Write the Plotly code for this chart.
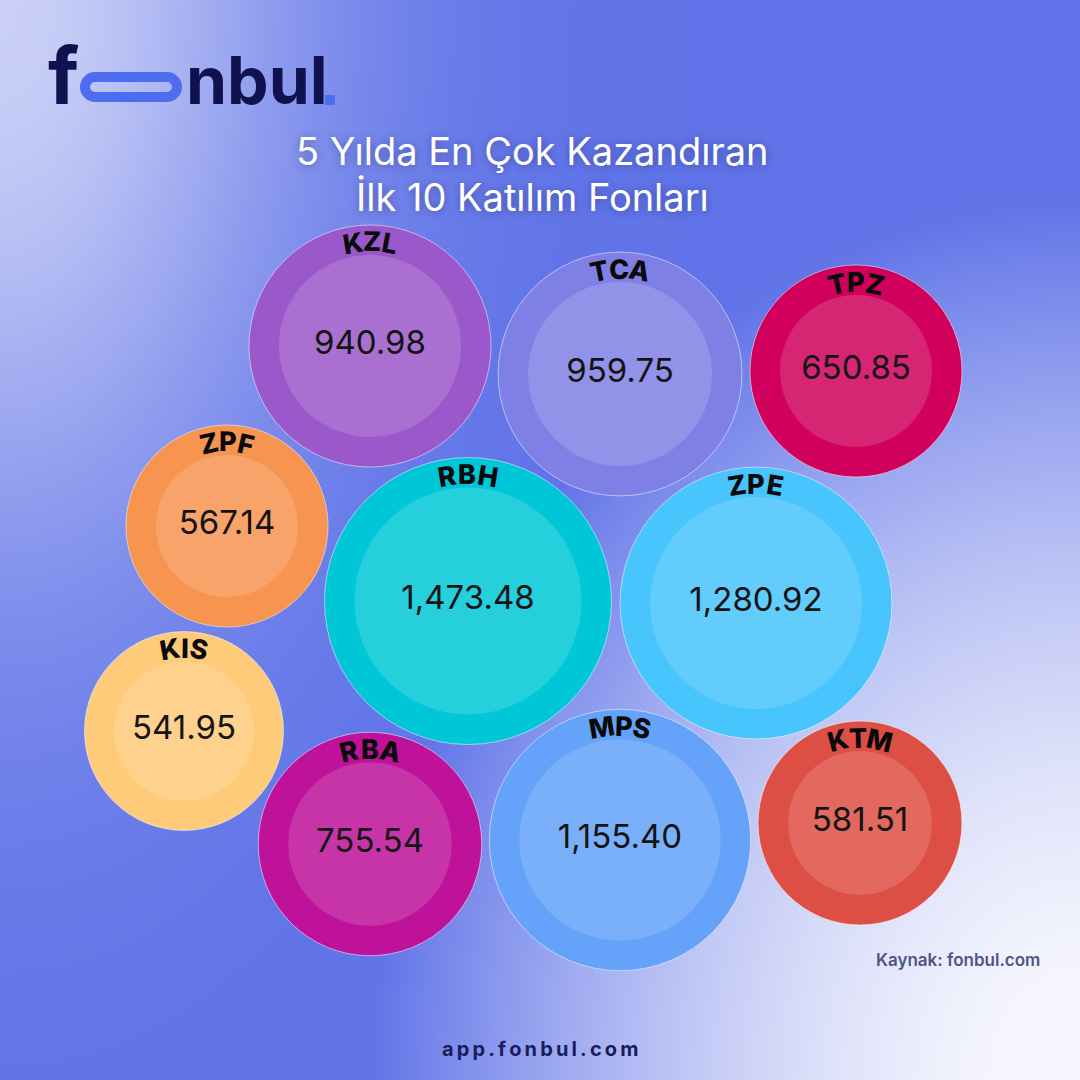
import numpy as np
import plotly.graph_objects as go

# ---------------- data ----------------
funds = ["KZL", "TCA", "TPZ", "ZPF", "RBH", "ZPE", "KIS", "RBA", "MPS", "KTM"]
returns_5y = [940.98, 959.75, 650.85, 567.14, 1473.48, 1280.92, 541.95, 755.54, 1155.40, 581.51]

title_lines = ["5 Yılda En Çok Kazandıran", "İlk 10 Katılım Fonları"]
source_text = "Kaynak: fonbul.com"
site_text = "app.fonbul.com"

# ---------------- layout (packed-bubble positions, pixel space) ----------------
pos_x = [370, 620, 856, 227, 468, 756, 184, 370, 620, 860]
pos_y = [346, 374, 371, 526, 601, 603, 731, 844, 840, 823]

outer_colors = ["#9b58ca", "#7f80e5", "#d0005c", "#f69450", "#00c7d7",
                "#48c5fd", "#fecb7a", "#be129a", "#64a3f9", "#dd4f45"]

W = H = 1080

# sqrt size scale
v = np.array(returns_5y)
r_min, r_max = 99.5, 143.5
s = np.sqrt(v)
radius = r_min + (s - s.min()) / (s.max() - s.min()) * (r_max - r_min)
ring = 30

fig = go.Figure()

# ---------------- background gradient ----------------
gx = np.linspace(0, W, 61)
gy = np.linspace(0, H, 61)
X, Y = np.meshgrid(gx, gy)
f_tl = 0.69 * np.exp(-((X / 300.0) ** 2 + (Y / 560.0) ** 2))
d_br = np.sqrt(((W - X) * 1.18) ** 2 + ((H - Y) * 0.95) ** 2)
f_br = np.clip(1 - (d_br / 840.0) ** 1.66, 0, 1)
Z = np.maximum(f_tl, f_br) + 0.03
fig.add_trace(go.Heatmap(x=gx, y=gy, z=Z, zmin=0, zmax=1, zsmooth="best",
                         colorscale=[[0, "#5b6fe7"], [1, "#f4f5fd"]],
                         showscale=False, hoverinfo="skip"))

# ---------------- bubbles ----------------
fig.add_trace(go.Scatter(
    x=pos_x, y=pos_y, mode="markers",
    marker=dict(size=2 * radius, sizemode="diameter", color=outer_colors,
                opacity=1, line=dict(width=1, color="rgba(255,255,255,0.5)")),
    hoverinfo="skip", showlegend=False))
fig.add_trace(go.Scatter(
    x=pos_x, y=pos_y, mode="markers",
    marker=dict(size=2 * (radius - ring), sizemode="diameter",
                color="rgba(255,255,255,0.21)", line=dict(width=0)),
    hoverinfo="skip", showlegend=False))
fig.add_trace(go.Scatter(
    x=pos_x, y=pos_y, mode="text",
    text=[f"{val:,.2f}" for val in returns_5y],
    textposition="middle center",
    textfont=dict(family="Inter", size=33, color="#141414"),
    hoverinfo="skip", showlegend=False))

# ---------------- curved labels ----------------
char_w = {"K": 18, "Z": 16, "L": 14, "T": 16, "C": 18, "A": 19, "P": 17, "F": 15,
          "R": 18, "B": 18, "H": 20, "E": 16, "I": 8, "S": 16, "M": 23}
annotations = []
for name, cx, cy, r in zip(funds, pos_x, pos_y, radius):
    R = r - 17
    widths = [char_w.get(c, 17) + 2.5 for c in name]
    total = sum(widths)
    acc = -total / 2
    for c, w in zip(name, widths):
        mid = acc + w / 2
        acc += w
        th = mid / R
        annotations.append(dict(
            x=cx + R * np.sin(th), y=cy - R * np.cos(th), xref="x", yref="y",
            text=c, showarrow=False, xanchor="center", yanchor="middle",
            textangle=float(np.degrees(th)),
            font=dict(family="Inter", size=27, color="#0a0a0a", weight=800)))

# ---------------- title ----------------
for i, line in enumerate(title_lines):
    annotations.append(dict(
        x=532, y=151 + i * 46, xref="x", yref="y", text=line, showarrow=False,
        xanchor="center", yanchor="middle",
        font=dict(family="Inter", size=38, color="white",
                  shadow="0px 1px 8px rgba(10,10,60,0.35)")))

# ---------------- logo ----------------
annotations.append(dict(x=46, y=125, xref="x", yref="y", text="f", showarrow=False,
                        xanchor="left", yanchor="bottom",
                        font=dict(family="Inter", size=78, color="#10124f", weight=700)))
annotations.append(dict(x=184, y=122, xref="x", yref="y", text="nbul", showarrow=False,
                        xanchor="left", yanchor="bottom",
                        font=dict(family="Inter", size=66, color="#10124f", weight=700)))
stadium = ("M 95 77 L 167 77 C 172.5 77 177 81.5 177 87 C 177 92.5 172.5 97 167 97 "
           "L 95 97 C 89.5 97 85 92.5 85 87 C 85 81.5 89.5 77 95 77 Z")
shapes = [
    dict(type="path", xref="x", yref="y", path=stadium,
         line=dict(color="#4e6cf0", width=10), fillcolor="rgba(0,0,0,0)"),
    dict(type="rect", xref="x", yref="y", x0=325, x1=335, y0=95, y1=105,
         line=dict(width=0), fillcolor="#4e6cf0"),
]

# ---------------- footer texts ----------------
annotations.append(dict(x=1042, y=960, xref="x", yref="y", text=source_text, showarrow=False,
                        xanchor="right", yanchor="middle",
                        font=dict(family="Inter", size=17, color="#4f5488", weight=600)))
annotations.append(dict(x=540, y=1049, xref="x", yref="y",
                        text="\u2009".join(site_text), showarrow=False,
                        xanchor="center", yanchor="middle",
                        font=dict(family="Inter", size=20, color="#1b1d5a", weight=700)))

fig.update_layout(
    width=W, height=H, margin=dict(l=0, r=0, t=0, b=0),
    paper_bgcolor="#5b6fe7", plot_bgcolor="#5b6fe7",
    xaxis=dict(range=[0, W], visible=False, fixedrange=True),
    yaxis=dict(range=[H, 0], visible=False, fixedrange=True),
    annotations=annotations, shapes=shapes, showlegend=False)

fig.write_html("out.html")
